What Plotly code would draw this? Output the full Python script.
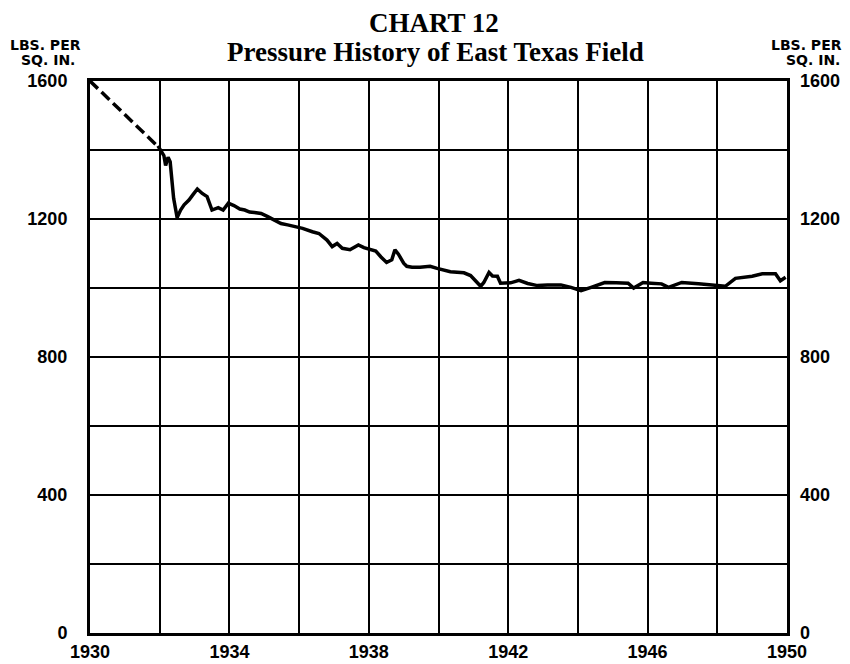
import plotly.graph_objects as go

# estimated (dashed) early pressure
est_years = [1930.0, 1931.9]
est_psi = [1600, 1415]

# measured pressure, lbs per sq. in.
years = [
    1931.95, 1932.05, 1932.12, 1932.17, 1932.24, 1932.30, 1932.40, 1932.50, 1932.60, 1932.70,
    1932.84, 1932.95, 1933.08, 1933.22, 1933.36, 1933.50, 1933.68, 1933.82, 1933.97, 1934.13,
    1934.30, 1934.44, 1934.58, 1934.72, 1934.91, 1935.10, 1935.29, 1935.48, 1935.67, 1935.86,
    1936.10, 1936.38, 1936.57, 1936.80, 1936.95, 1937.09, 1937.24, 1937.46, 1937.70, 1937.86,
    1937.98, 1938.20, 1938.35, 1938.51, 1938.66, 1938.75, 1938.85, 1939.00, 1939.09, 1939.24,
    1939.47, 1939.76, 1939.96, 1940.34, 1940.73, 1940.92, 1941.21, 1941.30, 1941.45, 1941.55,
    1941.69, 1941.78, 1942.07, 1942.31, 1942.56, 1942.84, 1943.13, 1943.51, 1943.80, 1944.09,
    1944.38, 1944.77, 1945.10, 1945.44, 1945.60, 1945.87, 1946.10, 1946.40, 1946.60, 1946.98,
    1947.46, 1948.04, 1948.23, 1948.52, 1949.00, 1949.29, 1949.67, 1949.81, 1949.96,
]
psi = [
    1412, 1398, 1384, 1355, 1379, 1366, 1260, 1204, 1226, 1241,
    1255, 1270, 1287, 1274, 1265, 1226, 1233, 1226, 1246, 1239,
    1229, 1226, 1220, 1219, 1216, 1207, 1197, 1187, 1183, 1178,
    1173, 1163, 1158, 1139, 1120, 1129, 1115, 1111, 1125, 1117,
    1113, 1107, 1090, 1074, 1082, 1111, 1098, 1072, 1063, 1060,
    1060, 1063, 1057, 1047, 1044, 1036, 1005, 1016, 1045, 1035,
    1034, 1014, 1015, 1022, 1013, 1007, 1009, 1009, 1002, 992,
    1002, 1016, 1015, 1014, 1000, 1016, 1014, 1012, 1002, 1016,
    1012, 1007, 1005, 1028, 1034, 1041, 1041, 1021, 1031,
]

x_ticks = [1930, 1934, 1938, 1942, 1946, 1950]
y_ticks = [0, 400, 800, 1200, 1600]

# the page body has an 8px margin, so the figure starts 8px in from the window corner
W, H = 834, 656
L, R, T, B = 82, 55, 73, 31
OFF = 8


def px_x(x):
    return (x - OFF - L) / (W - L - R)


def px_y(y):
    return (H - B - (y - OFF)) / (H - T - B)


label_font = dict(family='Liberation Sans, Arial', size=18, color='black', weight='bold')
unit_font = dict(family='DejaVu Sans, Liberation Sans', size=14, color='black', weight='bold')
title_font = dict(family='Liberation Serif, DejaVu Serif, serif', size=27, color='black', weight='bold')

fig = go.Figure()
fig.add_trace(go.Scatter(
    x=est_years, y=est_psi, mode='lines',
    line=dict(color='black', width=3.5, dash='11px,5px'),
    hoverinfo='skip', showlegend=False
))
fig.add_trace(go.Scatter(
    x=years, y=psi, mode='lines',
    line=dict(color='black', width=3.5),
    showlegend=False
))
# invisible trace so the right axis is drawn
fig.add_trace(go.Scatter(
    x=[1930], y=[0], yaxis='y2', mode='markers',
    marker=dict(opacity=0), hoverinfo='skip', showlegend=False
))

texts = [
    ('CHART 12', 434, 23, title_font),
    ('Pressure History of East Texas Field', 435, 52, title_font),
    ('LBS. PER', 45, 45, unit_font),
    ('SQ. IN.', 48, 60, unit_font),
    ('LBS. PER', 806, 45, unit_font),
    ('SQ. IN.', 813, 60, unit_font),
]

fig.update_layout(
    width=W, height=H,
    margin=dict(l=L, r=R, t=T, b=B),
    paper_bgcolor='white', plot_bgcolor='white',
    xaxis=dict(
        range=[1930, 1950], tickvals=x_ticks, automargin=False,
        showgrid=True, gridcolor='black', gridwidth=1.5,
        minor=dict(dtick=2, tick0=1930, showgrid=True, gridcolor='black', gridwidth=1.5),
        showline=True, linecolor='black', linewidth=3, mirror=True,
        ticks='', tickfont=label_font, ticklabelstandoff=0,
        zeroline=False,
    ),
    yaxis=dict(
        range=[0, 1600], tickvals=y_ticks, automargin=False,
        showgrid=True, gridcolor='black', gridwidth=1.5,
        minor=dict(dtick=200, tick0=0, showgrid=True, gridcolor='black', gridwidth=1.5),
        showline=True, linecolor='black', linewidth=3, mirror=True,
        ticks='', tickfont=label_font, ticklabelstandoff=16,
        zeroline=False,
    ),
    yaxis2=dict(
        range=[0, 1600], tickvals=y_ticks, overlaying='y', side='right', automargin=False,
        showgrid=False, zeroline=False, showline=False,
        ticks='', tickfont=label_font, ticklabelstandoff=12,
    ),
    annotations=[
        dict(text=t, x=px_x(x), y=px_y(y), xref='paper', yref='paper',
             xanchor='center', yanchor='middle', showarrow=False, font=f)
        for t, x, y, f in texts
    ],
)

fig.write_html("out.html")
